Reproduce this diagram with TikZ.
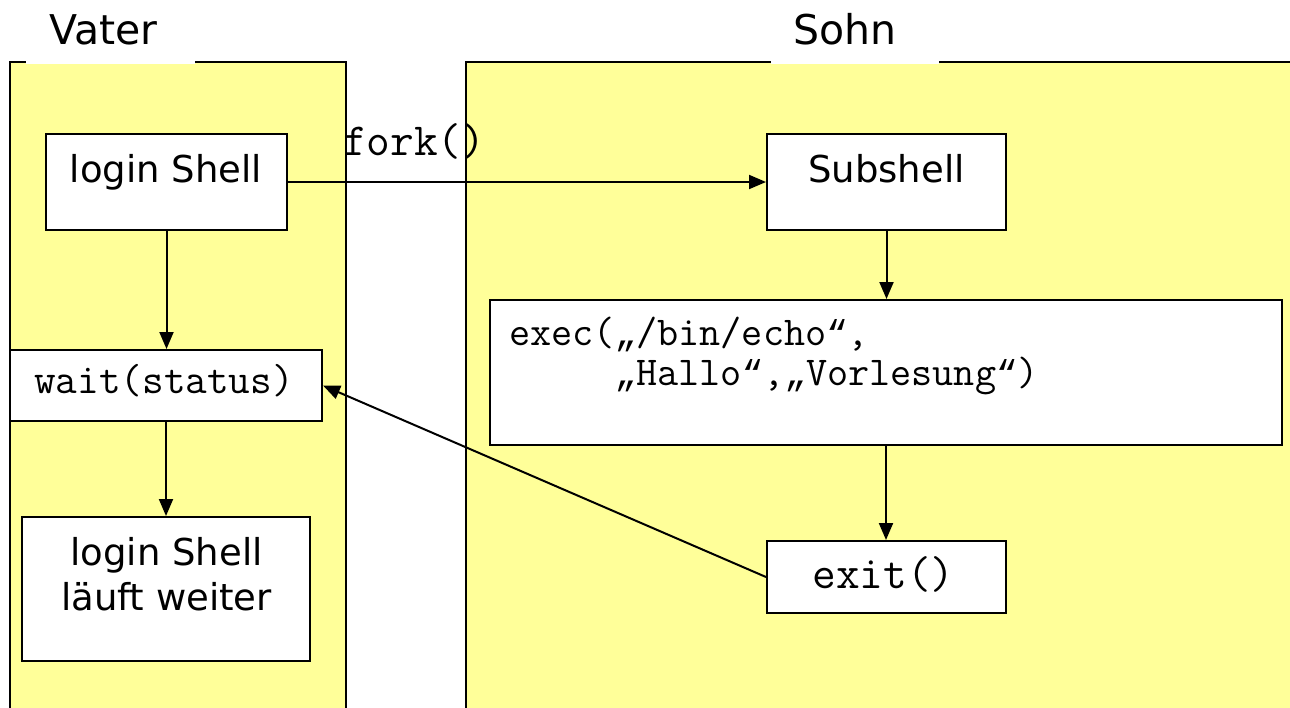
\documentclass[tikz,border=0pt]{standalone}
\usepackage{fontspec}
\setmainfont{DejaVu Sans}
\newfontfamily\quotemono{Liberation Mono}
\usetikzlibrary{arrows.meta}
\definecolor{procyellow}{HTML}{FFFF99}
% curly quotes for the code lines, scaled to the typewriter advance width
\newcommand{\execqlow}{{\quotemono\fontsize{35.9}{40}\selectfont „}}
\newcommand{\execqhigh}{{\quotemono\fontsize{35.9}{40}\selectfont “}}
\begin{document}
\begin{tikzpicture}[x=1pt,y=-1pt,
  panel/.style={draw=black, line width=2pt, fill=procyellow},
  box/.style={draw=black, line width=2pt, fill=white, inner sep=0pt},
  titlelbl/.style={inner sep=0pt, font=\fontsize{41}{49}\selectfont},
  sanslbl/.style={inner sep=0pt, font=\fontsize{37}{45}\selectfont},
  codelbl/.style={inner sep=0pt},
  flow/.style={line width=2pt, -{Triangle[length=17pt,width=14pt]}}]

% canvas
\useasboundingbox (0,0) rectangle (1290,707);
\fill[white] (0,0) rectangle (1290,707);

% process panels (they run past the lower edge)
\begin{scope}
  \clip (0,0) rectangle (1290,707);
  \draw[panel] (10,62) rectangle (346,730);
  \draw[panel] (466,62) rectangle (1320,730);
\end{scope}

% panel titles sitting on the upper border
\fill[white] (26,48) rectangle (195,64);
\fill[white] (771,48) rectangle (939,64);
\node[titlelbl, anchor=base] (vater) at (103.5,44) {Vater};
\node[titlelbl, anchor=base] (sohn) at (845,44) {Sohn};

% parent process
\node[box, minimum width=241, minimum height=96] (login) at (166.5,182) {};
\node[sanslbl, anchor=base] (loginT) at (166,182) {login Shell};

\node[box, minimum width=312, minimum height=71] (wait) at (166,385.5) {};
\node[codelbl, font=\ttfamily\fontsize{42}{46}\selectfont, anchor=base] (waitT) at (164,393) {wait(status)};

\node[box, minimum width=288, minimum height=144] (cont) at (166,589) {};
\node[sanslbl, anchor=base] (contT) at (166.5,565)
  {\begin{tabular}[t]{@{}c@{}}login Shell\\läuft weiter\end{tabular}};

% child process
\node[box, minimum width=239, minimum height=96] (sub) at (886.5,182) {};
\node[sanslbl, anchor=base] (subT) at (886.5,182) {Subshell};

\node[box, minimum width=792, minimum height=145] (exec) at (886,372.5) {};
\node[codelbl, font=\ttfamily\fontsize{41}{40}\selectfont, anchor=base west] (execT) at (509,345)
  {\begin{tabular}[t]{@{}l@{}}exec(\execqlow/bin/echo\execqhigh,\\
   \hphantom{exec(}\execqlow Hallo\execqhigh,\execqlow Vorlesung\execqhigh)\end{tabular}};

\node[box, minimum width=239, minimum height=72] (exit) at (886.5,577) {};
\node[codelbl, font=\ttfamily\fontsize{46}{50}\selectfont, anchor=base] (exitT) at (883.5,588) {exit()};

% fork label
\node[codelbl, font=\ttfamily\fontsize{46}{50}\selectfont, anchor=base west] (forkT) at (343,155) {fork()};

% connectors
\draw[flow] (login.east) -- (sub.west);
\draw[flow] (login.south) -- (login.south |- wait.north);
\draw[flow] (wait.south) -- (wait.south |- cont.north);
\draw[flow] (sub.south) -- (sub.south |- exec.north);
\draw[flow] (exec.south) -- (exec.south |- exit.north);
\draw[flow] (exit.west) -- (wait.east);
\end{tikzpicture}
\end{document}
